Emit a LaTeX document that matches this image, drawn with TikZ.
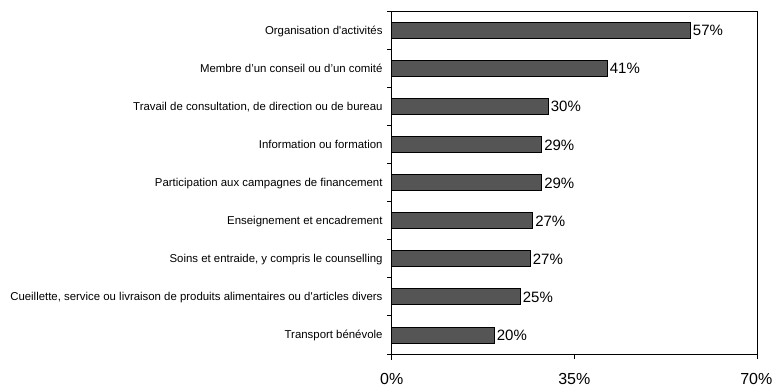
\documentclass[tikz,border=0pt]{standalone}
\usepackage{fontspec}
\setmainfont{Liberation Sans}[Ligatures=TeXOff]
\usepackage{xcolor}
\usepackage{tikz}
\usetikzlibrary{positioning}
\definecolor{barfill}{RGB}{85,85,85}
\tikzset{
    bar/.style={
        rectangle,
        draw=black,
        line width=0.9pt,
        fill=barfill,
        minimum height=16pt,
        inner sep=0pt,
        outer sep=0pt
    },
    catlabel/.style={
        font=\fontsize{11.4}{13}\selectfont,
        inner sep=0pt,
        text height=8pt,
        text depth=0pt
    },
    vallabel/.style={
        font=\fontsize{15}{17}\selectfont,
        inner sep=0pt,
        text height=11pt,
        text depth=0pt
    },
    ticklabel/.style={
        font=\fontsize{16}{18}\selectfont,
        inner sep=0pt,
        text depth=0pt,
        anchor=base
    },
    axisline/.style={
        draw=black,
        line width=0.9pt
    },
    frame/.style={
        draw=black,
        line width=0.8pt
    }
}

\begin{document}
\begin{tikzpicture}[x=1pt, y=-1pt, node distance=2.4pt]
\useasboundingbox (0,0) rectangle (773,387);

% Plot area
\coordinate (o) at (391.7,354);
\coordinate (tr) at (757,11.3);
\draw[frame] (o) rectangle (tr);

% Bars
\node[bar, anchor=west, minimum width=298.6pt] (b1) at (391.7,30.34) {};
\node[bar, anchor=west, minimum width=215.6pt] (b2) at (391.7,68.42) {};
\node[bar, anchor=west, minimum width=156.6pt] (b3) at (391.7,106.5) {};
\node[bar, anchor=west, minimum width=150.0pt] (b4) at (391.7,144.58) {};
\node[bar, anchor=west, minimum width=150.0pt] (b5) at (391.7,182.66) {};
\node[bar, anchor=west, minimum width=141.0pt] (b6) at (391.7,220.74) {};
\node[bar, anchor=west, minimum width=138.6pt] (b7) at (391.7,258.82) {};
\node[bar, anchor=west, minimum width=128.6pt] (b8) at (391.7,296.9) {};
\node[bar, anchor=west, minimum width=102.6pt] (b9) at (391.7,334.98) {};

% Category labels
\node[catlabel, left=9pt of b1] (c1) {Organisation d'activités};
\node[catlabel, left=9pt of b2] (c2) {Membre d’un conseil ou d’un comité};
\node[catlabel, left=9pt of b3] (c3) {Travail de consultation, de direction ou de bureau};
\node[catlabel, left=9pt of b4] (c4) {Information ou formation};
\node[catlabel, left=9pt of b5] (c5) {Participation aux campagnes de financement};
\node[catlabel, left=9pt of b6] (c6) {Enseignement et encadrement};
\node[catlabel, left=9pt of b7] (c7) {Soins et entraide, y compris le counselling};
\node[catlabel, left=9pt of b8] (c8) {Cueillette, service ou livraison de produits alimentaires ou d'articles divers};
\node[catlabel, left=9pt of b9] (c9) {Transport bénévole};

% Value labels
\node[vallabel, right=of b1] (v1) {57\%};
\node[vallabel, right=of b2] (v2) {41\%};
\node[vallabel, right=of b3] (v3) {30\%};
\node[vallabel, right=of b4] (v4) {29\%};
\node[vallabel, right=of b5] (v5) {29\%};
\node[vallabel, right=of b6] (v6) {27\%};
\node[vallabel, right=of b7] (v7) {27\%};
\node[vallabel, right=of b8] (v8) {25\%};
\node[vallabel, right=of b9] (v9) {20\%};

% Axes and ticks
\draw[axisline] (391.7,11.3) -- (391.7,360);
\draw[axisline] (387.2,354) -- (757,354);
\draw[axisline] (387.2,11.3) -- ++(4.5,0)
    (387.2,49.38) -- ++(4.5,0)
    (387.2,87.46) -- ++(4.5,0)
    (387.2,125.54) -- ++(4.5,0)
    (387.2,163.62) -- ++(4.5,0)
    (387.2,201.7) -- ++(4.5,0)
    (387.2,239.78) -- ++(4.5,0)
    (387.2,277.86) -- ++(4.5,0)
    (387.2,315.94) -- ++(4.5,0)
    (574.35,354) -- ++(0,5)
    (757,354) -- ++(0,5);

% Tick labels
\node[ticklabel] (t0) at (391.7,384.6) {0\%};
\node[ticklabel] (t35) at (574.35,384.6) {35\%};
\node[ticklabel] (t70) at (756.3,384.6) {70\%};

\end{tikzpicture}
\end{document}
